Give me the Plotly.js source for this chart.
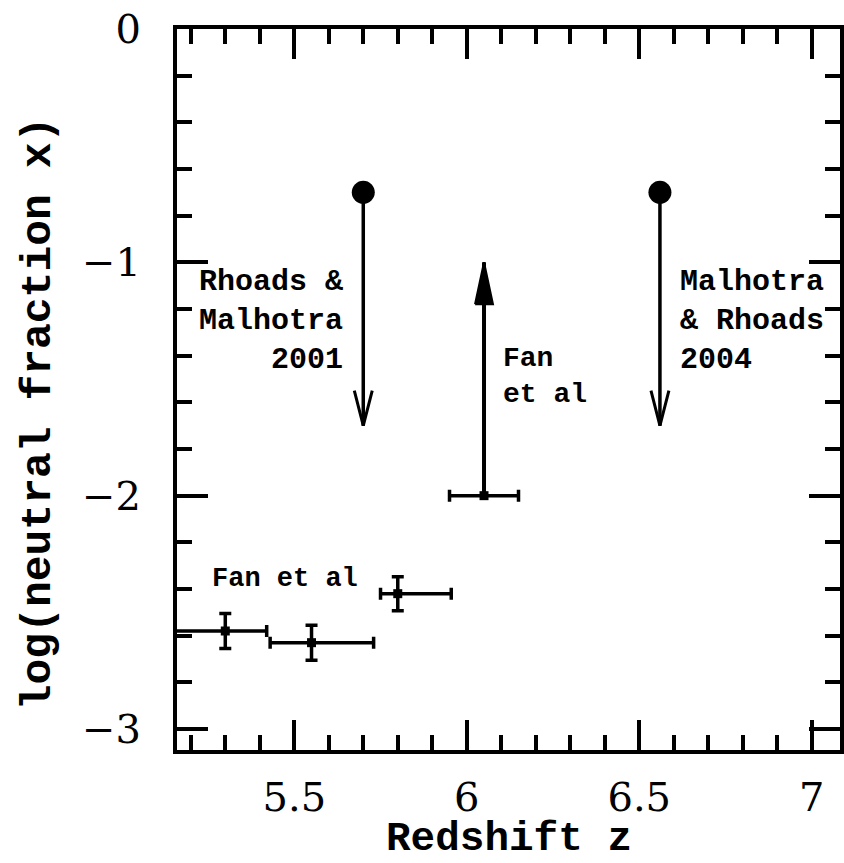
<!DOCTYPE html>
<html>
<head>
<meta charset="utf-8">
<script src="https://cdn.plot.ly/plotly-3.0.1.min.js"></script>
<style>html,body{margin:0;padding:0;background:#fff;}#chart{width:844px;height:863px;}</style>
</head>
<body>
<div id="chart"></div>
<script>
// ---- data ----
// Fan et al detections
var fanZ = [5.30, 5.55, 5.80];
var fanLogX = [-2.58, -2.63, -2.42];
var fanZErrMinus = [0.16, 0.12, 0.05];
var fanZErrPlus = [0.12, 0.18, 0.155];
var fanLogXErr = [0.075, 0.075, 0.073];

// Fan et al lower limit
var fanLimZ = [6.05];
var fanLimLogX = [-2.0];
var fanLimZErr = [0.10];
var fanLimArrowTo = [-1.0];

// Rhoads & Malhotra 2001 / Malhotra & Rhoads 2004 upper limits
var lyaZ = [5.70, 6.56];
var lyaLogX = [-0.7, -0.7];
var lyaArrowTo = [-1.7, -1.7];

// axis ticks
var xTickVals = [5.5, 6, 6.5, 7];
var xTickText = ['5.5', '6', '6.5', '7'];
var yTickVals = [0, -1, -2, -3];
var yTickText = ['0', '\u22121', '\u22122', '\u22123'];

// labels
var labelTexts = ['Rhoads &<br>Malhotra<br>2001', 'Fan<br>et al', 'Malhotra<br>& Rhoads<br>2004', 'Fan et al'];
var labelZ = [5.647, 6.098, 6.612, 5.256];
var labelLogX = [-1.25, -1.49, -1.25, -2.355];
var labelAlign = ['right', 'left', 'left', 'left'];
var labelSize = [30, 28, 30, 27];

var xTitle = 'Redshift z';
var yTitle = 'log(neutral fraction x)';

// ---- style constants ----
var HEAD_HW = 0.026;   // half width of arrow head (z units)
var HEAD_LEN = 0.15;   // length of open head (log units)
var FHEAD_LEN = 0.18;  // length of filled head (log units)

function shaft(zs, from, to) {
  var x = [], y = [];
  for (var i = 0; i < zs.length; i++) { x.push(zs[i], zs[i], null); y.push(from[i], to[i], null); }
  return {x: x, y: y};
}
function vHeads(zs, tips, dir) { // dir=-1 pointing down
  var x = [], y = [];
  for (var i = 0; i < zs.length; i++) {
    x.push(zs[i] - HEAD_HW, zs[i], zs[i] + HEAD_HW, null);
    y.push(tips[i] - dir * HEAD_LEN, tips[i], tips[i] - dir * HEAD_LEN, null);
  }
  return {x: x, y: y};
}
function filledHeads(zs, tips, dir) {
  var x = [], y = [];
  for (var i = 0; i < zs.length; i++) {
    x.push(zs[i] - HEAD_HW, zs[i], zs[i] + HEAD_HW, zs[i] - HEAD_HW, null);
    y.push(tips[i] - dir * FHEAD_LEN, tips[i], tips[i] - dir * FHEAD_LEN, tips[i] - dir * FHEAD_LEN, null);
  }
  return {x: x, y: y};
}

var lyaShaft = shaft(lyaZ, lyaLogX, lyaArrowTo);
var lyaHead = vHeads(lyaZ, lyaArrowTo, -1);
var fanShaft = shaft(fanLimZ, fanLimLogX, fanLimArrowTo);
var fanHead = filledHeads(fanLimZ, fanLimArrowTo, 1);

var traces = [
  {x: lyaShaft.x, y: lyaShaft.y, mode: 'lines', line: {color: 'black', width: 3.5}, hoverinfo: 'skip'},
  {x: lyaHead.x, y: lyaHead.y, mode: 'lines', line: {color: 'black', width: 3}, hoverinfo: 'skip'},
  {x: lyaZ, y: lyaLogX, mode: 'markers', marker: {symbol: 'circle', size: 23, color: 'black'}},
  {x: fanShaft.x, y: fanShaft.y, mode: 'lines', line: {color: 'black', width: 4}, hoverinfo: 'skip'},
  {x: fanHead.x, y: fanHead.y, mode: 'lines', fill: 'toself', fillcolor: 'black', line: {color: 'black', width: 2}, hoverinfo: 'skip'},
  {x: fanLimZ, y: fanLimLogX, mode: 'markers', marker: {symbol: 'square', size: 9, color: 'black'},
   error_x: {type: 'data', array: fanLimZErr, color: 'black', thickness: 3.5, width: 6}},
  {x: fanZ, y: fanLogX, mode: 'markers', marker: {symbol: 'square', size: 9, color: 'black'},
   error_x: {type: 'data', symmetric: false, array: fanZErrPlus, arrayminus: fanZErrMinus, color: 'black', thickness: 3.5, width: 6},
   error_y: {type: 'data', array: fanLogXErr, color: 'black', thickness: 3.5, width: 6}}
];

var annotations = labelTexts.map(function (t, i) {
  return {x: labelZ[i], y: labelLogX[i], xref: 'x', yref: 'y', text: t, showarrow: false,
          xanchor: labelAlign[i], yanchor: 'middle', align: labelAlign[i],
          font: {family: 'Liberation Mono', size: labelSize[i], color: 'black', weight: 'bold'}};
});
// axis titles placed as annotations in the margins
annotations.push({xref: 'paper', yref: 'y', x: -0.209, y: -1.645, text: yTitle, textangle: -90,
  showarrow: false, xanchor: 'center', yanchor: 'middle',
  font: {family: 'Liberation Mono', size: 43, color: 'black', weight: 'bold'}});
annotations.push({xref: 'paper', yref: 'paper', x: 0.5, y: -0.1234, text: xTitle,
  showarrow: false, xanchor: 'center', yanchor: 'middle', borderpad: 0,
  font: {family: 'Liberation Mono', size: 41, color: 'black', weight: 'bold'}});

var tickFont = {family: 'DejaVu Serif', size: 40, color: 'black'};

var layout = {
  width: 844, height: 863,
  margin: {l: 177, r: 4, t: 29, b: 113},
  paper_bgcolor: 'white', plot_bgcolor: 'white',
  showlegend: false,
  xaxis: {
    range: [5.16, 7.082], showgrid: false, zeroline: false,
    showline: true, linewidth: 4, linecolor: 'black', mirror: 'allticks',
    ticks: 'inside', ticklen: 30, tickwidth: 4, tickcolor: 'black',
    tickmode: 'array', tickvals: xTickVals, ticktext: xTickText,
    minor: {dtick: 0.1, tick0: 0, ticks: 'inside', ticklen: 15, tickwidth: 4, tickcolor: 'black', showgrid: false},
    tickfont: tickFont, ticklabelstandoff: 9
  },
  yaxis: {
    range: [-3.09, 0], showgrid: false, zeroline: false,
    showline: true, linewidth: 4, linecolor: 'black', mirror: 'allticks',
    ticks: 'inside', ticklen: 31, tickwidth: 4, tickcolor: 'black',
    tickmode: 'array', tickvals: yTickVals, ticktext: yTickText,
    minor: {dtick: 0.2, tick0: 0, ticks: 'inside', ticklen: 15, tickwidth: 4, tickcolor: 'black', showgrid: false},
    tickfont: tickFont, ticklabelstandoff: 24
  },
  annotations: annotations
};

Plotly.newPlot('chart', traces, layout, {displayModeBar: false, staticPlot: true});
</script>
</body>
</html>
